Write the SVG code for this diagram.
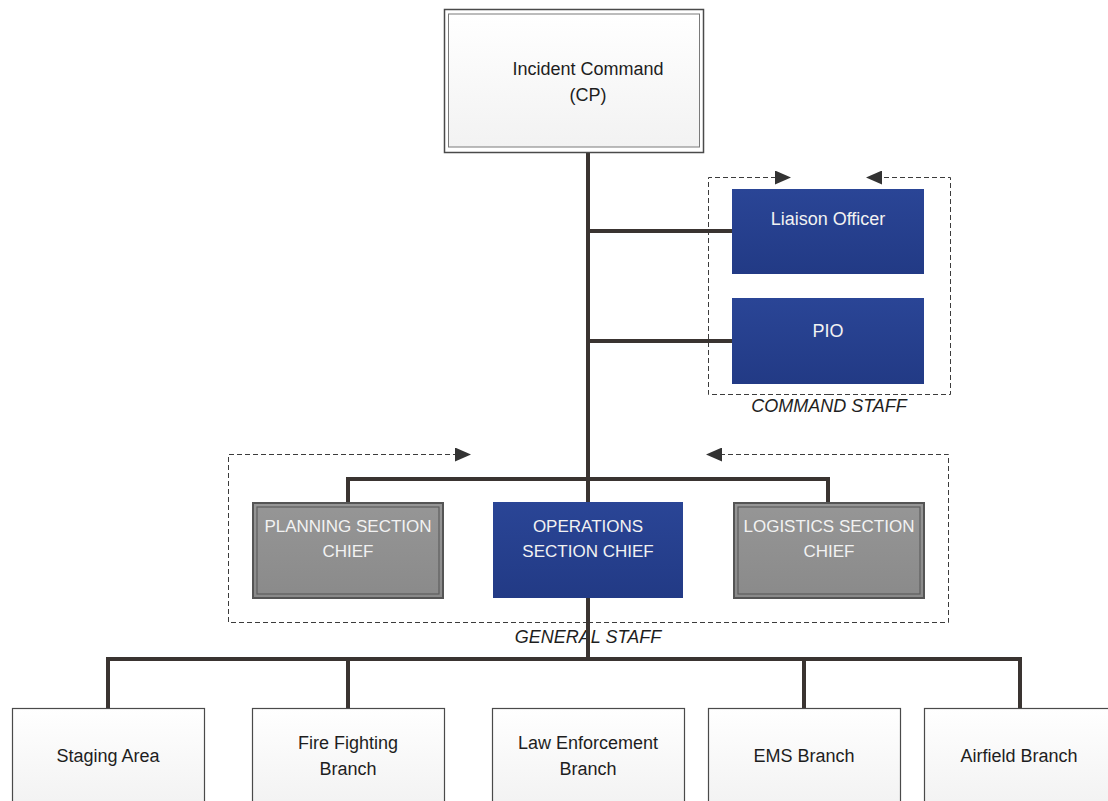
<svg xmlns="http://www.w3.org/2000/svg" width="1108" height="801" viewBox="0 0 1108 801">
  <defs>
    <linearGradient id="paleFill" x1="0" y1="0" x2="0" y2="1">
      <stop offset="0" stop-color="#ffffff"/>
      <stop offset="1" stop-color="#f2f2f2"/>
    </linearGradient>
    <linearGradient id="blueFill" x1="0" y1="0" x2="0" y2="1">
      <stop offset="0" stop-color="#2a4596"/>
      <stop offset="1" stop-color="#223a85"/>
    </linearGradient>
    <linearGradient id="grayFill" x1="0" y1="0" x2="0" y2="1">
      <stop offset="0" stop-color="#969696"/>
      <stop offset="1" stop-color="#8a8a8a"/>
    </linearGradient>
    <marker id="arrow" viewBox="0 0 16 14" refX="15" refY="7" markerWidth="16" markerHeight="14" markerUnits="userSpaceOnUse" orient="auto">
      <path d="M0,0 L16,7 L0,14 Z" fill="#333"/>
    </marker>
  </defs>
  <style>
    .lbl { font-family: "Liberation Sans", Arial, sans-serif; font-size: 18px; text-anchor: middle; }
    .dark { fill: #1e1e1e; }
    .light { fill: #f2f2f2; }
    .caps { font-size: 17px; }
    .staff { font-family: "Liberation Sans", Arial, sans-serif; font-size: 18px; font-style: italic; fill: #1e1e1e; text-anchor: middle; }
    .pale { fill: url(#paleFill); stroke: #4a4a4a; stroke-width: 1.2; }
    .blue { fill: url(#blueFill); }
    .gray { fill: url(#grayFill); stroke: #555; stroke-width: 2; }
    .grayIn { fill: none; stroke: #5e5e5e; stroke-width: 1.2; }
    .link { fill: none; stroke: #3a3431; stroke-width: 4; }
    .dash { fill: none; stroke: #3c3c3c; stroke-width: 1; stroke-dasharray: 5 3; }
  </style>
  <rect width="1108" height="801" fill="#ffffff"/>

  <!-- staff grouping frames -->
  <g id="command-staff-frame">
    <path class="dash" d="M829,394.5 H708.5 V177.5 H790" marker-end="url(#arrow)"/>
    <path class="dash" d="M829,394.5 H950.5 V177.5 H867" marker-end="url(#arrow)"/>
    <text class="staff" x="829" y="412">COMMAND STAFF</text>
  </g>
  <g id="general-staff-frame">
    <path class="dash" d="M588,622.5 H228.5 V454.5 H470" marker-end="url(#arrow)"/>
    <path class="dash" d="M588,622.5 H948.5 V454.5 H707" marker-end="url(#arrow)"/>
    <text class="staff" x="588" y="643">GENERAL STAFF</text>
  </g>

  <!-- connectors -->
  <g id="connectors">
    <path class="link" d="M588,152 V659"/>
    <path class="link" d="M588,231 H732"/>
    <path class="link" d="M588,341 H732"/>
    <path class="link" d="M348,502 V479 H828 V502"/>
    <path class="link" d="M108,708 V659 H1020 V708"/>
    <path class="link" d="M348,659 V708"/>
    <path class="link" d="M804,659 V708"/>
  </g>

  <g id="incident-command">
    <rect x="444.5" y="9.5" width="259" height="143" fill="#fff" stroke="#4a4a4a" stroke-width="1.5"/>
    <rect x="448.5" y="14" width="251" height="133" fill="url(#paleFill)" stroke="#7a7a7a" stroke-width="1"/>
    <text class="lbl dark" x="588" y="75">Incident Command</text>
    <text class="lbl dark" x="588" y="101">(CP)</text>
  </g>

  <g id="liaison-officer">
    <rect class="blue" x="732" y="189" width="192" height="85"/>
    <text class="lbl light" x="828" y="225">Liaison Officer</text>
  </g>

  <g id="pio">
    <rect class="blue" x="732" y="298" width="192" height="86"/>
    <text class="lbl light" x="828" y="337">PIO</text>
  </g>

  <g id="planning-section-chief">
    <rect class="gray" x="253" y="503" width="190" height="95"/>
    <rect class="grayIn" x="257" y="507" width="182" height="87"/>
    <text class="lbl caps light" x="348" y="532">PLANNING SECTION</text>
    <text class="lbl caps light" x="348" y="557">CHIEF</text>
  </g>

  <g id="operations-section-chief">
    <rect class="blue" x="493" y="502" width="190" height="96"/>
    <text class="lbl caps light" x="588" y="532">OPERATIONS</text>
    <text class="lbl caps light" x="588" y="557">SECTION CHIEF</text>
  </g>

  <g id="logistics-section-chief">
    <rect class="gray" x="734" y="503" width="190" height="95"/>
    <rect class="grayIn" x="738" y="507" width="182" height="87"/>
    <text class="lbl caps light" x="829" y="532">LOGISTICS SECTION</text>
    <text class="lbl caps light" x="829" y="557">CHIEF</text>
  </g>

  <g id="staging-area">
    <rect class="pale" x="12.5" y="708.5" width="192" height="100"/>
    <text class="lbl dark" x="108" y="762">Staging Area</text>
  </g>

  <g id="fire-fighting-branch">
    <rect class="pale" x="252.5" y="708.5" width="192" height="100"/>
    <text class="lbl dark" x="348" y="749">Fire Fighting</text>
    <text class="lbl dark" x="348" y="775">Branch</text>
  </g>

  <g id="law-enforcement-branch">
    <rect class="pale" x="492.5" y="708.5" width="192" height="100"/>
    <text class="lbl dark" x="588" y="749">Law Enforcement</text>
    <text class="lbl dark" x="588" y="775">Branch</text>
  </g>

  <g id="ems-branch">
    <rect class="pale" x="708.5" y="708.5" width="192" height="100"/>
    <text class="lbl dark" x="804" y="762">EMS Branch</text>
  </g>

  <g id="airfield-branch">
    <rect class="pale" x="924.5" y="708.5" width="192" height="100"/>
    <text class="lbl dark" x="1019" y="762">Airfield Branch</text>
  </g>
</svg>
